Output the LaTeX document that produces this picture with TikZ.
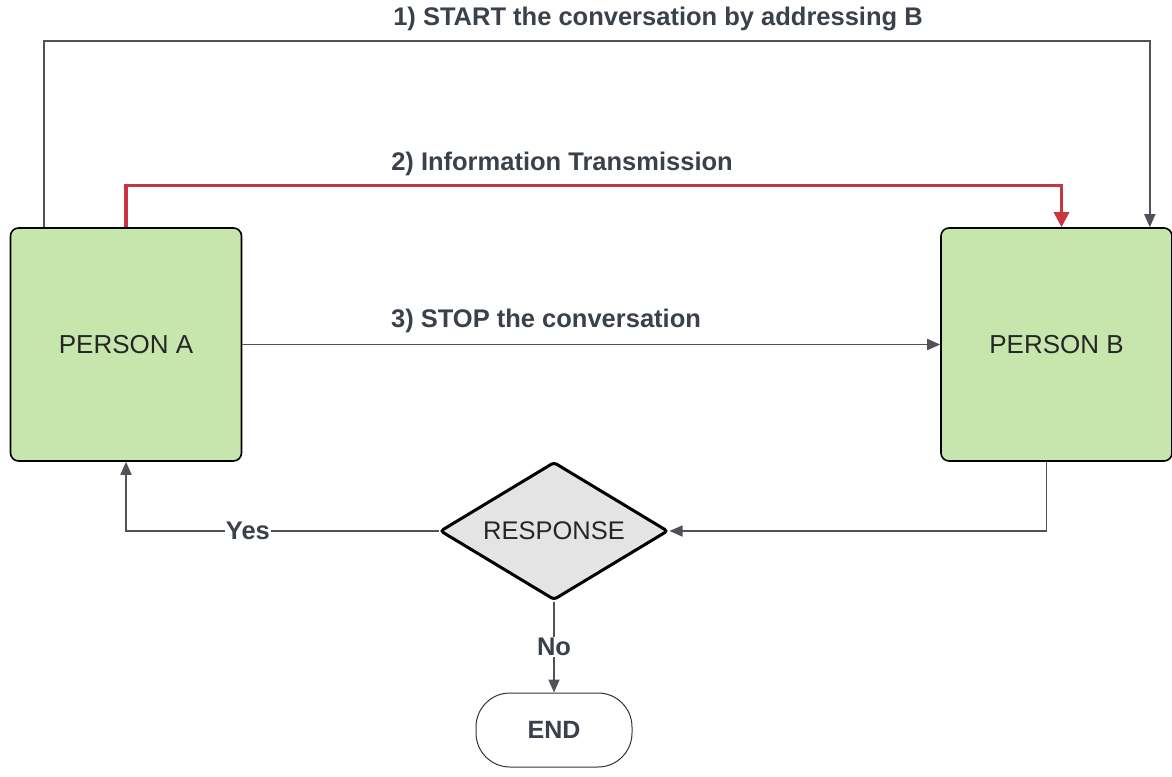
\documentclass[tikz,border=0pt]{standalone}
\usepackage{fontspec}
\setmainfont{Liberation Sans}
\usetikzlibrary{arrows.meta,shapes.geometric,calc}
\definecolor{boxgreen}{HTML}{C6E6AE}
\definecolor{diagray}{HTML}{E4E4E4}
\definecolor{linegray}{HTML}{4F5257}
\definecolor{labeltext}{HTML}{3A414A}
\definecolor{flowred}{HTML}{C83440}
\tikzset{
  person/.style={draw=black, line width=1.6pt, fill=boxgreen, rounded corners=8pt,
    minimum width=231pt, minimum height=233pt, font=\fontsize{26}{30}\selectfont, text=black!85},
  decision/.style={diamond, draw=black, line width=3pt, fill=diagray, rounded corners=3pt,
    minimum width=228pt, minimum height=138pt, inner sep=0pt,
    label={[font=\fontsize{25.5}{30}\selectfont, text=black!85]center:#1}},
  terminal/.style={draw=black!80, line width=1pt, fill=white, rounded corners=34pt,
    minimum width=156pt, minimum height=74pt, font=\bfseries\fontsize{25}{30}\selectfont, text=labeltext},
  conn/.style={draw=linegray, line width=1.6pt, -{Triangle[length=13pt,width=11pt]}},
  redconn/.style={draw=flowred, line width=3.2pt, -{Triangle[length=15pt,width=15pt]}},
  lbl/.style={font=\bfseries\fontsize{25.5}{30}\selectfont, text=labeltext, inner sep=1pt},
  onlbl/.style={lbl, fill=white, inner sep=1pt}
}
\begin{document}
\begin{tikzpicture}[x=1pt,y=-1pt]
  \useasboundingbox (0,0) rectangle (1172,776);

  % the two participants
  \node[person] (A) at (126,344.5) {PERSON A};
  \node[person] (B) at (1056.5,344.5) {PERSON B};

  % decision and end terminal
  \node[decision=RESPONSE] (D) at (554,531) {};
  \node[terminal] (E) at (554,730) {END};

  % step labels
  \node[lbl] (L1) at (658,19) {1) START the conversation by addressing B};
  \node[lbl] (L2) at (562,164) {2) Information Transmission};
  \node[lbl] (L3) at (546,321) {3) STOP the conversation};

  % 1) start: from top of A over the whole diagram to B
  \draw[conn] ([xshift=34pt]A.north west) -- ++(0,-186) -| ([xshift=-23pt]B.north east);

  % 2) information transmission (red)
  \draw[redconn] (A.north) -- ++(0,-42) -| ([xshift=5pt]B.north);

  % 3) stop
  \draw[conn] (A.east) -- (B.west);

  % B answers to the decision
  \draw[conn] ([xshift=-10pt]B.south) |- (D.east);

  % yes: back to A
  \draw[conn] (D.west) -| node[onlbl, pos=0.305] (Y) {Yes} (A.south);

  % no: end
  \draw[conn] (D.south) -- node[onlbl] (N) {No} (E.north);
\end{tikzpicture}
\end{document}
